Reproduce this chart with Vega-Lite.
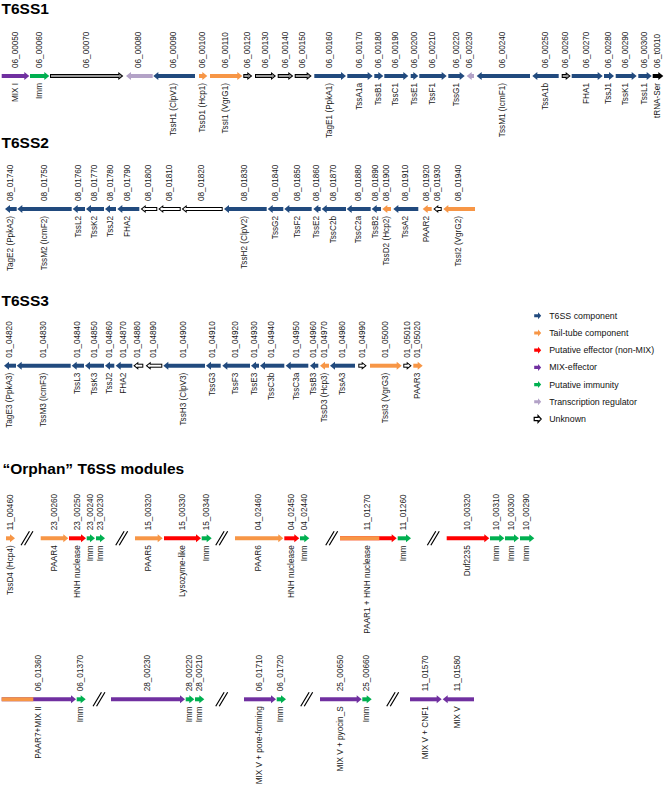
{
  "$schema": "https://vega.github.io/schema/vega-lite/v6.json",
  "width": 666,
  "height": 791,
  "autosize": {"type": "none"},
  "padding": 0,
  "background": "white",
  "config": {
    "view": {"stroke": null},
    "text": {"font": "Liberation Sans"},
    "legend": {
      "orient": "none",
      "legendX": 533.2,
      "legendY": 311.3,
      "padding": 0,
      "labelFont": "Liberation Sans",
      "labelFontSize": 8.8,
      "labelColor": "#111111",
      "symbolSize": 49,
      "rowPadding": 4.2,
      "labelOffset": 7,
      "symbolOpacity": 1
    }
  },
  "datasets": {
    "tracks": [
      {"row": "T6SS1", "track": 76},
      {"row": "T6SS2", "track": 209},
      {"row": "T6SS3", "track": 365.7},
      {"row": "O1", "track": 538.3},
      {"row": "O2", "track": 699.3}
    ],
    "genes": [
      {"row": "T6SS1", "tag": "06_00050", "name": "MIX I", "cat": "MIX-effector", "dir": "R", "x1": 1.7, "x2": 29.3},
      {"row": "T6SS1", "tag": "06_00060", "name": "Imm", "cat": "Putative immunity", "dir": "R", "x1": 30, "x2": 49.3},
      {"row": "T6SS1", "tag": "06_00070", "name": "", "cat": "Unknown", "dir": "R", "x1": 50, "x2": 123.3},
      {"row": "T6SS1", "tag": "06_00080", "name": "", "cat": "Transcription regulator", "dir": "L", "x1": 126, "x2": 152.7},
      {"row": "T6SS1", "tag": "06_00090", "name": "TssH1 (ClpV1)", "cat": "T6SS component", "dir": "L", "x1": 153.3, "x2": 195},
      {"row": "T6SS1", "tag": "06_00100", "name": "TssD1 (Hcp1)", "cat": "Tail-tube component", "dir": "R", "x1": 199, "x2": 207.3},
      {"row": "T6SS1", "tag": "06_00110", "name": "TssI1 (VgrG1)", "cat": "Tail-tube component", "dir": "R", "x1": 210, "x2": 242.3},
      {"row": "T6SS1", "tag": "06_00120", "name": "", "cat": "Unknown", "dir": "R", "x1": 243.3, "x2": 252.3},
      {"row": "T6SS1", "tag": "06_00130", "name": "", "cat": "Unknown", "dir": "R", "x1": 255, "x2": 276},
      {"row": "T6SS1", "tag": "06_00140", "name": "", "cat": "Unknown", "dir": "R", "x1": 277.7, "x2": 293.3},
      {"row": "T6SS1", "tag": "06_00150", "name": "", "cat": "Unknown", "dir": "R", "x1": 294.7, "x2": 311.7},
      {"row": "T6SS1", "tag": "06_00160", "name": "TagE1 (PpkA1)", "cat": "T6SS component", "dir": "R", "x1": 314.3, "x2": 346},
      {"row": "T6SS1", "tag": "06_00170", "name": "TssA1a", "cat": "T6SS component", "dir": "R", "x1": 347.3, "x2": 372.7},
      {"row": "T6SS1", "tag": "06_00180", "name": "TssB1", "cat": "T6SS component", "dir": "R", "x1": 374.3, "x2": 383.3},
      {"row": "T6SS1", "tag": "06_00190", "name": "TssC1", "cat": "T6SS component", "dir": "R", "x1": 384.3, "x2": 408.3},
      {"row": "T6SS1", "tag": "06_00200", "name": "TssE1", "cat": "T6SS component", "dir": "R", "x1": 410.7, "x2": 418.3},
      {"row": "T6SS1", "tag": "06_00210", "name": "TssF1", "cat": "T6SS component", "dir": "R", "x1": 419.3, "x2": 446.7},
      {"row": "T6SS1", "tag": "06_00220", "name": "TssG1", "cat": "T6SS component", "dir": "R", "x1": 448.3, "x2": 464.7},
      {"row": "T6SS1", "tag": "06_00230", "name": "", "cat": "Transcription regulator", "dir": "L", "x1": 466.7, "x2": 474},
      {"row": "T6SS1", "tag": "06_00240", "name": "TssM1 (IcmF1)", "cat": "T6SS component", "dir": "L", "x1": 476.7, "x2": 530},
      {"row": "T6SS1", "tag": "06_00250", "name": "TssA1b", "cat": "T6SS component", "dir": "L", "x1": 532.3, "x2": 558.7},
      {"row": "T6SS1", "tag": "06_00260", "name": "", "cat": "Unknown", "dir": "R", "x1": 561.7, "x2": 570.7},
      {"row": "T6SS1", "tag": "06_00270", "name": "FHA1", "cat": "T6SS component", "dir": "R", "x1": 571.7, "x2": 602.7},
      {"row": "T6SS1", "tag": "06_00280", "name": "TssJ1", "cat": "T6SS component", "dir": "R", "x1": 604, "x2": 614},
      {"row": "T6SS1", "tag": "06_00290", "name": "TssK1", "cat": "T6SS component", "dir": "R", "x1": 615.7, "x2": 636.7},
      {"row": "T6SS1", "tag": "06_00300", "name": "TssL1", "cat": "T6SS component", "dir": "R", "x1": 638.3, "x2": 651.7},
      {"row": "T6SS1", "tag": "06_t0010", "name": "tRNA-Ser", "cat": "tRNA", "dir": "R", "x1": 652.7, "x2": 663.3},

      {"row": "T6SS2", "tag": "08_01740", "name": "TagE2 (PpkA2)", "cat": "T6SS component", "dir": "L", "x1": 5, "x2": 16.7},
      {"row": "T6SS2", "tag": "08_01750", "name": "TssM2 (IcmF2)", "cat": "T6SS component", "dir": "L", "x1": 17.3, "x2": 71.7},
      {"row": "T6SS2", "tag": "08_01760", "name": "TssL2", "cat": "T6SS component", "dir": "L", "x1": 72.7, "x2": 85},
      {"row": "T6SS2", "tag": "08_01770", "name": "TssK2", "cat": "T6SS component", "dir": "L", "x1": 86, "x2": 104},
      {"row": "T6SS2", "tag": "08_01780", "name": "TssJ2", "cat": "T6SS component", "dir": "L", "x1": 105, "x2": 116},
      {"row": "T6SS2", "tag": "08_01790", "name": "FHA2", "cat": "T6SS component", "dir": "L", "x1": 117.3, "x2": 139.3},
      {"row": "T6SS2", "tag": "08_01800", "name": "", "cat": "Unknown", "dir": "L", "x1": 140.7, "x2": 157.3},
      {"row": "T6SS2", "tag": "08_01810", "name": "", "cat": "Unknown", "dir": "L", "x1": 158.3, "x2": 180.7},
      {"row": "T6SS2", "tag": "08_01820", "name": "", "cat": "Unknown", "dir": "L", "x1": 181.7, "x2": 222.7},
      {"row": "T6SS2", "tag": "08_01830", "name": "TssH2 (ClpV2)", "cat": "T6SS component", "dir": "L", "x1": 224, "x2": 266.7},
      {"row": "T6SS2", "tag": "08_01840", "name": "TssG2", "cat": "T6SS component", "dir": "L", "x1": 267.7, "x2": 283.3},
      {"row": "T6SS2", "tag": "08_01850", "name": "TssF2", "cat": "T6SS component", "dir": "L", "x1": 284.3, "x2": 311.7},
      {"row": "T6SS2", "tag": "08_01860", "name": "TssE2", "cat": "T6SS component", "dir": "L", "x1": 313.3, "x2": 320.7},
      {"row": "T6SS2", "tag": "08_01870", "name": "TssC2b", "cat": "T6SS component", "dir": "L", "x1": 321.7, "x2": 346},
      {"row": "T6SS2", "tag": "08_01880", "name": "TssC2a", "cat": "T6SS component", "dir": "L", "x1": 346.7, "x2": 370.7},
      {"row": "T6SS2", "tag": "08_01890", "name": "TssB2", "cat": "T6SS component", "dir": "L", "x1": 371.7, "x2": 381},
      {"row": "T6SS2", "tag": "08_01900", "name": "TssD2 (Hcp2)", "cat": "Tail-tube component", "dir": "L", "x1": 382.3, "x2": 391},
      {"row": "T6SS2", "tag": "08_01910", "name": "TssA2", "cat": "T6SS component", "dir": "L", "x1": 393.3, "x2": 418.3},
      {"row": "T6SS2", "tag": "08_01920", "name": "PAAR2", "cat": "Tail-tube component", "dir": "L", "x1": 422.7, "x2": 431.7},
      {"row": "T6SS2", "tag": "08_01930", "name": "", "cat": "Unknown", "dir": "L", "x1": 433.3, "x2": 441.7},
      {"row": "T6SS2", "tag": "08_01940", "name": "TssI2 (VgrG2)", "cat": "Tail-tube component", "dir": "L", "x1": 443.3, "x2": 475},

      {"row": "T6SS3", "tag": "01_04820", "name": "TagE3 (PpkA3)", "cat": "T6SS component", "dir": "L", "x1": 4, "x2": 16},
      {"row": "T6SS3", "tag": "01_04830", "name": "TssM3 (IcmF3)", "cat": "T6SS component", "dir": "L", "x1": 16.7, "x2": 70.7},
      {"row": "T6SS3", "tag": "01_04840", "name": "TssL3", "cat": "T6SS component", "dir": "L", "x1": 71.7, "x2": 84},
      {"row": "T6SS3", "tag": "01_04850", "name": "TssK3", "cat": "T6SS component", "dir": "L", "x1": 85, "x2": 104},
      {"row": "T6SS3", "tag": "01_04860", "name": "TssJ2", "cat": "T6SS component", "dir": "L", "x1": 105, "x2": 114.3},
      {"row": "T6SS3", "tag": "01_04870", "name": "FHA2", "cat": "T6SS component", "dir": "L", "x1": 115.7, "x2": 132.3},
      {"row": "T6SS3", "tag": "01_04880", "name": "", "cat": "Unknown", "dir": "L", "x1": 133.3, "x2": 143.3},
      {"row": "T6SS3", "tag": "01_04890", "name": "", "cat": "Unknown", "dir": "L", "x1": 145.7, "x2": 162.3},
      {"row": "T6SS3", "tag": "01_04900", "name": "TssH3 (ClpV3)", "cat": "T6SS component", "dir": "L", "x1": 163.3, "x2": 205},
      {"row": "T6SS3", "tag": "01_04910", "name": "TssG3", "cat": "T6SS component", "dir": "L", "x1": 206, "x2": 220.7},
      {"row": "T6SS3", "tag": "01_04920", "name": "TssF3", "cat": "T6SS component", "dir": "L", "x1": 222.3, "x2": 250},
      {"row": "T6SS3", "tag": "01_04930", "name": "TssE3", "cat": "T6SS component", "dir": "L", "x1": 251, "x2": 259},
      {"row": "T6SS3", "tag": "01_04940", "name": "TssC3b", "cat": "T6SS component", "dir": "L", "x1": 260, "x2": 284.3},
      {"row": "T6SS3", "tag": "01_04950", "name": "TssC3a", "cat": "T6SS component", "dir": "L", "x1": 285.7, "x2": 308.3},
      {"row": "T6SS3", "tag": "01_04960", "name": "TssB3", "cat": "T6SS component", "dir": "L", "x1": 310, "x2": 318.3},
      {"row": "T6SS3", "tag": "01_04970", "name": "TssD3 (Hcp3)", "cat": "Tail-tube component", "dir": "L", "x1": 320, "x2": 329},
      {"row": "T6SS3", "tag": "01_04980", "name": "TssA3", "cat": "T6SS component", "dir": "L", "x1": 330, "x2": 355},
      {"row": "T6SS3", "tag": "01_04990", "name": "", "cat": "Unknown", "dir": "R", "x1": 358.3, "x2": 366.7},
      {"row": "T6SS3", "tag": "01_05000", "name": "TssI3 (VgrG3)", "cat": "Tail-tube component", "dir": "R", "x1": 370, "x2": 401.7},
      {"row": "T6SS3", "tag": "01_05010", "name": "", "cat": "Unknown", "dir": "R", "x1": 403.3, "x2": 411.7},
      {"row": "T6SS3", "tag": "01_05020", "name": "PAAR3", "cat": "Tail-tube component", "dir": "R", "x1": 413.3, "x2": 422.7},

      {"row": "O1", "tag": "11_00460", "name": "TssD4 (Hcp4)", "cat": "Tail-tube component", "dir": "R", "x1": 6, "x2": 15},
      {"row": "O1", "tag": "23_00260", "name": "PAAR4", "cat": "Tail-tube component", "dir": "R", "x1": 40.7, "x2": 68.3},
      {"row": "O1", "tag": "23_00250", "name": "HNH nuclease", "cat": "Putative effector (non-MIX)", "dir": "R", "x1": 69, "x2": 86},
      {"row": "O1", "tag": "23_00240", "name": "Imm", "cat": "Putative immunity", "dir": "R", "x1": 86.7, "x2": 95},
      {"row": "O1", "tag": "23_00230", "name": "Imm", "cat": "Putative immunity", "dir": "R", "x1": 96, "x2": 105},
      {"row": "O1", "tag": "15_00320", "name": "PAAR5", "cat": "Tail-tube component", "dir": "R", "x1": 135, "x2": 162.7},
      {"row": "O1", "tag": "15_00330", "name": "Lysozyme-like", "cat": "Putative effector (non-MIX)", "dir": "R", "x1": 164, "x2": 201},
      {"row": "O1", "tag": "15_00340", "name": "Imm", "cat": "Putative immunity", "dir": "R", "x1": 201.7, "x2": 211.7},
      {"row": "O1", "tag": "04_02460", "name": "PAAR6", "cat": "Tail-tube component", "dir": "R", "x1": 235, "x2": 283.3},
      {"row": "O1", "tag": "04_02450", "name": "HNH nuclease", "cat": "Putative effector (non-MIX)", "dir": "R", "x1": 284.3, "x2": 299.3},
      {"row": "O1", "tag": "04_02440", "name": "Imm", "cat": "Putative immunity", "dir": "R", "x1": 300, "x2": 309.3},
      {"row": "O1", "tag": "11_01270", "name": "PAAR1 + HNH nuclease", "cat": "Putative effector (non-MIX)", "dir": "R", "x1": 340, "x2": 396.7},
      {"row": "O1", "tag": "11_01260", "name": "Imm", "cat": "Putative immunity", "dir": "R", "x1": 397.7, "x2": 411},
      {"row": "O1", "tag": "10_00320", "name": "Duf2235", "cat": "Putative effector (non-MIX)", "dir": "R", "x1": 446.7, "x2": 489.3},
      {"row": "O1", "tag": "10_00310", "name": "Imm", "cat": "Putative immunity", "dir": "R", "x1": 490, "x2": 504.3},
      {"row": "O1", "tag": "10_00300", "name": "Imm", "cat": "Putative immunity", "dir": "R", "x1": 505, "x2": 519},
      {"row": "O1", "tag": "10_00290", "name": "Imm", "cat": "Putative immunity", "dir": "R", "x1": 520, "x2": 534.3},

      {"row": "O2", "tag": "06_01360", "name": "PAAR7+MIX II", "cat": "MIX-effector", "dir": "R", "x1": 1.7, "x2": 76},
      {"row": "O2", "tag": "06_01370", "name": "Imm", "cat": "Putative immunity", "dir": "R", "x1": 76.7, "x2": 85.7},
      {"row": "O2", "tag": "28_00230", "name": "", "cat": "MIX-effector", "dir": "R", "x1": 111, "x2": 185},
      {"row": "O2", "tag": "28_00220", "name": "Imm", "cat": "Putative immunity", "dir": "R", "x1": 185.7, "x2": 194.3},
      {"row": "O2", "tag": "28_00210", "name": "Imm", "cat": "Putative immunity", "dir": "R", "x1": 195, "x2": 204.3},
      {"row": "O2", "tag": "06_01710", "name": "MIX V + pore-forming", "cat": "MIX-effector", "dir": "R", "x1": 244, "x2": 276},
      {"row": "O2", "tag": "06_01720", "name": "Imm", "cat": "Putative immunity", "dir": "R", "x1": 276.7, "x2": 286},
      {"row": "O2", "tag": "25_00650", "name": "MIX V + pyocin_S", "cat": "MIX-effector", "dir": "R", "x1": 320, "x2": 361.7},
      {"row": "O2", "tag": "25_00660", "name": "Imm", "cat": "Putative immunity", "dir": "R", "x1": 362.3, "x2": 371.7},
      {"row": "O2", "tag": "11_01570", "name": "MIX V + CNF1", "cat": "MIX-effector", "dir": "R", "x1": 410, "x2": 441.7},
      {"row": "O2", "tag": "11_01580", "name": "MIX V", "cat": "MIX-effector", "dir": "L", "x1": 442.7, "x2": 474}
    ],
    "domains": [
      {"row": "O1", "cat": "Tail-tube component", "x1": 340, "x2": 379.3},
      {"row": "O2", "cat": "Tail-tube component", "x1": 1.7, "x2": 33.3}
    ],
    "breaks": [
      {"row": "O1", "x": 27}, {"row": "O1", "x": 121.7}, {"row": "O1", "x": 221.7}, {"row": "O1", "x": 331.7}, {"row": "O1", "x": 433.3},
      {"row": "O2", "x": 99}, {"row": "O2", "x": 221.7}, {"row": "O2", "x": 306.7}, {"row": "O2", "x": 392.7}
    ],
    "titles": [
      {"text": "T6SS1", "x": 1.5, "track": 14},
      {"text": "T6SS2", "x": 1.5, "track": 148.3},
      {"text": "T6SS3", "x": 1.5, "track": 305.7},
      {"text": "“Orphan” T6SS modules", "x": 2.5, "track": 474.4}
    ]
  },
  "data": {"name": "genes"},
  "transform": [
    {"lookup": "row", "from": {"data": {"name": "tracks"}, "key": "row", "fields": ["track"]}}
  ],
  "encoding": {
    "y": {"field": "track", "type": "quantitative", "scale": {"domain": [0, 791], "reverse": true, "nice": false, "zero": false}, "axis": null}
  },
  "layer": [
    {
      "transform": [{"filter": "datum.dir === 'R'"}],
      "mark": {"type": "rect", "x2Offset": -4, "yOffset": -2, "y2Offset": 2},
      "encoding": {
        "x": {"field": "x1", "type": "quantitative", "scale": {"domain": [0, 666], "nice": false, "zero": false}, "axis": null},
        "x2": {"field": "x2"},
        "y2": {"field": "track"},
        "fill": {
          "condition": {"test": "datum.cat === 'Unknown' || datum.cat === 'tRNA'", "value": "#000000"},
          "field": "cat", "type": "nominal", "title": null,
          "scale": {
            "domain": ["T6SS component", "Tail-tube component", "Putative effector (non-MIX)", "MIX-effector", "Putative immunity", "Transcription regulator", "Unknown"],
            "range": ["#214A7E", "#F79646", "#FF0000", "#7030A0", "#00B050", "#B3A2C7", "#FFFFFF"]
          },
          "legend": {
            "symbolType": "M-1,-0.45L0.1,-0.45L0.1,-1L1,0L0.1,1L0.1,0.45L-1,0.45Z",
            "encode": {"symbols": {"update": {"stroke": {"signal": "datum.value === 'Unknown' ? '#000000' : 'transparent'"}, "strokeWidth": {"value": 1.2}}}}
          }
        }
      }
    },
    {
      "transform": [{"filter": "datum.dir === 'L'"}],
      "mark": {"type": "rect", "xOffset": 4, "yOffset": -2, "y2Offset": 2},
      "encoding": {
        "x": {"field": "x1", "type": "quantitative", "scale": {"domain": [0, 666], "nice": false, "zero": false}, "axis": null},
        "x2": {"field": "x2"},
        "y2": {"field": "track"},
        "fill": {
          "condition": {"test": "datum.cat === 'Unknown' || datum.cat === 'tRNA'", "value": "#000000"},
          "field": "cat", "type": "nominal", "title": null,
          "scale": {
            "domain": ["T6SS component", "Tail-tube component", "Putative effector (non-MIX)", "MIX-effector", "Putative immunity", "Transcription regulator", "Unknown"],
            "range": ["#214A7E", "#F79646", "#FF0000", "#7030A0", "#00B050", "#B3A2C7", "#FFFFFF"]
          },
          "legend": null
        }
      }
    },
    {
      "transform": [{"filter": "datum.dir === 'R'"}],
      "mark": {"type": "point", "shape": "M-1.25,-1L0,0L-1.25,1Z", "size": 64, "filled": true, "opacity": 1, "strokeWidth": 0},
      "encoding": {
        "x": {"field": "x2", "type": "quantitative", "scale": {"domain": [0, 666], "nice": false, "zero": false}, "axis": null},
        "fill": {
          "condition": {"test": "datum.cat === 'Unknown' || datum.cat === 'tRNA'", "value": "#000000"},
          "field": "cat", "type": "nominal", "title": null,
          "scale": {
            "domain": ["T6SS component", "Tail-tube component", "Putative effector (non-MIX)", "MIX-effector", "Putative immunity", "Transcription regulator", "Unknown"],
            "range": ["#214A7E", "#F79646", "#FF0000", "#7030A0", "#00B050", "#B3A2C7", "#FFFFFF"]
          },
          "legend": null
        }
      }
    },
    {
      "transform": [{"filter": "datum.dir === 'L'"}],
      "mark": {"type": "point", "shape": "M1.25,-1L0,0L1.25,1Z", "size": 64, "filled": true, "opacity": 1, "strokeWidth": 0},
      "encoding": {
        "x": {"field": "x1", "type": "quantitative", "scale": {"domain": [0, 666], "nice": false, "zero": false}, "axis": null},
        "fill": {
          "condition": {"test": "datum.cat === 'Unknown' || datum.cat === 'tRNA'", "value": "#000000"},
          "field": "cat", "type": "nominal", "title": null,
          "scale": {
            "domain": ["T6SS component", "Tail-tube component", "Putative effector (non-MIX)", "MIX-effector", "Putative immunity", "Transcription regulator", "Unknown"],
            "range": ["#214A7E", "#F79646", "#FF0000", "#7030A0", "#00B050", "#B3A2C7", "#FFFFFF"]
          },
          "legend": null
        }
      }
    },
    {
      "transform": [{"filter": "datum.dir === 'R' && datum.cat === 'Unknown'"}],
      "mark": {"type": "rect", "xOffset": 1, "x2Offset": -3.5, "yOffset": -1, "y2Offset": 1},
      "encoding": {
        "x": {"field": "x1", "type": "quantitative", "scale": {"domain": [0, 666], "nice": false, "zero": false}, "axis": null},
        "x2": {"field": "x2"},
        "y2": {"field": "track"},
        "fill": {"condition": {"test": "datum.row === 'T6SS1'", "value": "#9A9A9A"}, "value": "#FFFFFF"}
      }
    },
    {
      "transform": [{"filter": "datum.dir === 'L' && datum.cat === 'Unknown'"}],
      "mark": {"type": "rect", "xOffset": 3.5, "x2Offset": -1, "yOffset": -1, "y2Offset": 1},
      "encoding": {
        "x": {"field": "x1", "type": "quantitative", "scale": {"domain": [0, 666], "nice": false, "zero": false}, "axis": null},
        "x2": {"field": "x2"},
        "y2": {"field": "track"},
        "fill": {"condition": {"test": "datum.row === 'T6SS1'", "value": "#9A9A9A"}, "value": "#FFFFFF"}
      }
    },
    {
      "transform": [{"filter": "datum.dir === 'R' && datum.cat === 'Unknown'"}],
      "mark": {"type": "point", "shape": "M-1.25,-1L0,0L-1.25,1Z", "size": 14.7, "xOffset": -1.6, "filled": true, "opacity": 1, "strokeWidth": 0},
      "encoding": {
        "x": {"field": "x2", "type": "quantitative", "scale": {"domain": [0, 666], "nice": false, "zero": false}, "axis": null},
        "fill": {"condition": {"test": "datum.row === 'T6SS1'", "value": "#9A9A9A"}, "value": "#FFFFFF"}
      }
    },
    {
      "transform": [{"filter": "datum.dir === 'L' && datum.cat === 'Unknown'"}],
      "mark": {"type": "point", "shape": "M1.25,-1L0,0L1.25,1Z", "size": 14.7, "xOffset": 1.6, "filled": true, "opacity": 1, "strokeWidth": 0},
      "encoding": {
        "x": {"field": "x1", "type": "quantitative", "scale": {"domain": [0, 666], "nice": false, "zero": false}, "axis": null},
        "fill": {"condition": {"test": "datum.row === 'T6SS1'", "value": "#9A9A9A"}, "value": "#FFFFFF"}
      }
    },
    {
      "data": {"name": "domains"},
      "transform": [
        {"lookup": "row", "from": {"data": {"name": "tracks"}, "key": "row", "fields": ["track"]}}
      ],
      "mark": {"type": "rect", "yOffset": -2, "y2Offset": 2},
      "encoding": {
        "x": {"field": "x1", "type": "quantitative", "scale": {"domain": [0, 666], "nice": false, "zero": false}, "axis": null},
        "x2": {"field": "x2"},
        "y2": {"field": "track"},
        "fill": {
          "field": "cat", "type": "nominal", "title": null,
          "scale": {
            "domain": ["T6SS component", "Tail-tube component", "Putative effector (non-MIX)", "MIX-effector", "Putative immunity", "Transcription regulator", "Unknown"],
            "range": ["#214A7E", "#F79646", "#FF0000", "#7030A0", "#00B050", "#B3A2C7", "#FFFFFF"]
          },
          "legend": null
        }
      }
    },
    {
      "data": {"name": "breaks"},
      "transform": [
        {"lookup": "row", "from": {"data": {"name": "tracks"}, "key": "row", "fields": ["track"]}}
      ],
      "mark": {"type": "point", "shape": "M-0.85,1L0.35,-1M-0.35,1L0.85,-1", "size": 196, "filled": false, "opacity": 1, "stroke": "#000000", "strokeWidth": 1.2},
      "encoding": {
        "x": {"field": "x", "type": "quantitative", "scale": {"domain": [0, 666], "nice": false, "zero": false}, "axis": null}
      }
    },
    {
      "transform": [{"calculate": "(datum.x1 + datum.x2) / 2", "as": "mid"}],
      "mark": {"type": "text", "angle": 270, "align": "left", "baseline": "middle", "dx": 8, "fontSize": 8.2, "font": "Liberation Sans", "color": "#1A1A1A"},
      "encoding": {
        "x": {"field": "mid", "type": "quantitative", "scale": {"domain": [0, 666], "nice": false, "zero": false}, "axis": null},
        "text": {"field": "tag"}
      }
    },
    {
      "transform": [{"filter": "datum.name !== ''"}, {"calculate": "(datum.x1 + datum.x2) / 2", "as": "mid"}],
      "mark": {"type": "text", "angle": 270, "align": "right", "baseline": "middle", "dx": -7, "fontSize": 8.2, "font": "Liberation Sans", "color": "#1A1A1A"},
      "encoding": {
        "x": {"field": "mid", "type": "quantitative", "scale": {"domain": [0, 666], "nice": false, "zero": false}, "axis": null},
        "text": {"field": "name"}
      }
    },
    {
      "data": {"name": "titles"},
      "mark": {"type": "text", "align": "left", "baseline": "alphabetic", "fontSize": 15.5, "fontWeight": "bold", "font": "Liberation Sans", "color": "#000000"},
      "encoding": {
        "x": {"field": "x", "type": "quantitative", "scale": {"domain": [0, 666], "nice": false, "zero": false}, "axis": null},
        "text": {"field": "text"}
      }
    }
  ]
}
